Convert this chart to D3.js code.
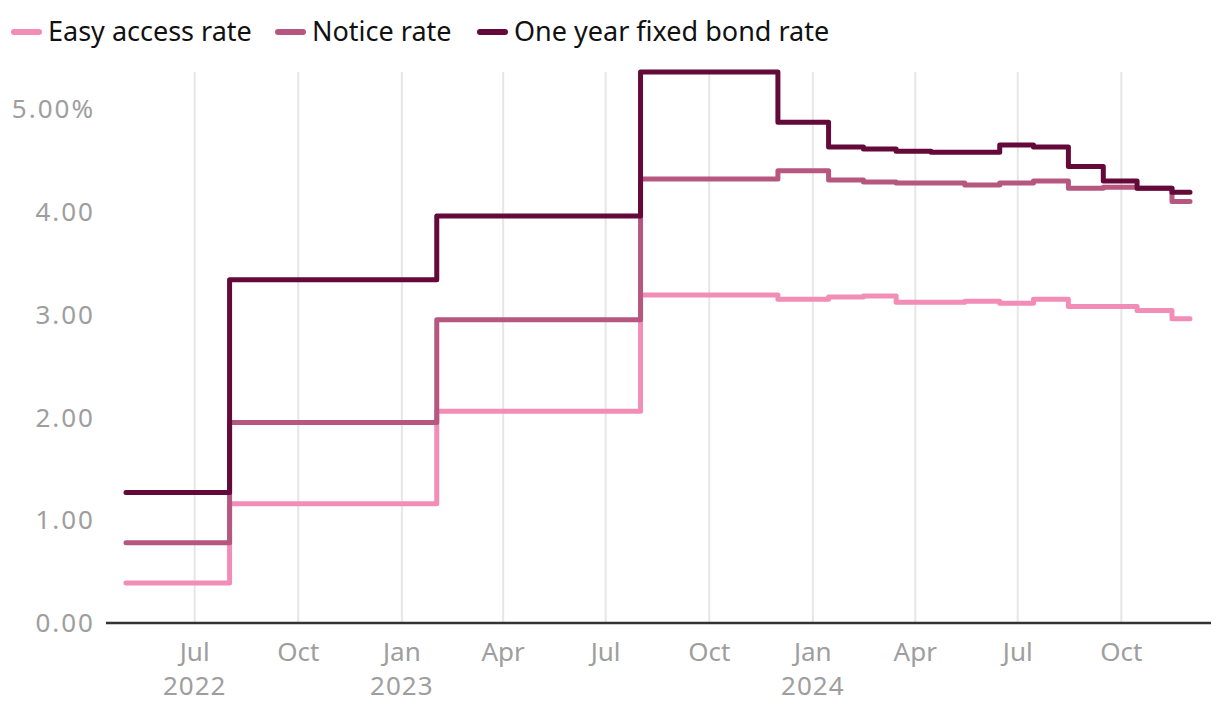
<!DOCTYPE html>
<html><head><meta charset="utf-8">
<script src="https://cdn.jsdelivr.net/npm/d3@7"></script>
<style>body{margin:0;background:#fff} svg{display:block} text{font-family:"Noto Sans",sans-serif}</style>
</head><body><svg id="c" width="1220" height="718"></svg>
<script>
const dates = ["2022-05-01","2022-08-01","2023-02-01","2023-08-01","2023-12-01","2024-01-15","2024-02-15","2024-03-15","2024-04-15","2024-05-15","2024-06-15","2024-07-15","2024-08-15","2024-09-15","2024-10-15","2024-11-15","2024-12-01"];
const easyAccess = [0.39,1.16,2.06,3.19,3.15,3.17,3.18,3.12,3.12,3.13,3.11,3.15,3.08,3.08,3.04,2.96,2.96];
const notice = [0.78,1.95,2.95,4.32,4.40,4.31,4.29,4.28,4.28,4.26,4.28,4.30,4.23,4.24,4.23,4.10,4.10];
const oneYearBond = [1.27,3.34,3.96,5.36,4.87,4.63,4.61,4.59,4.58,4.58,4.65,4.63,4.44,4.30,4.23,4.19,4.19];
const seriesNames = ["Easy access rate","Notice rate","One year fixed bond rate"];
const seriesColors = ["#f28db8","#b6577f","#640a3a"];
const yTicks = [0,1,2,3,4,5];
const xTickDates = ["2022-07-01","2022-10-01","2023-01-01","2023-04-01","2023-07-01","2023-10-01","2024-01-01","2024-04-01","2024-07-01","2024-10-01"];
const xMonthLabels = ["Jul","Oct","Jan","Apr","Jul","Oct","Jan","Apr","Jul","Oct"];
const xYearLabels = ["2022","","2023","","","","2024","","",""];

const parse = d3.utcParse("%Y-%m-%d");
const svg = d3.select("#c");
const x = d3.scaleUtc().domain([parse("2022-05-01"), parse("2024-12-01")]).range([126, 1190]);
const y = d3.scaleLinear().domain([0, 5]).range([623, 109]);
const plotTop = 72, axisLeft = 106, axisRight = 1211;

// vertical gridlines
svg.append("g").selectAll("line").data(xTickDates).join("line")
  .attr("x1", d => x(parse(d))).attr("x2", d => x(parse(d)))
  .attr("y1", plotTop).attr("y2", y(0))
  .attr("stroke", "#e6e6e6").attr("stroke-width", 2);

// x labels
const xl = svg.append("g").attr("fill", "#9e9e9e").attr("font-size", 26).attr("text-anchor", "middle");
xTickDates.forEach((d, i) => {
  const px = x(parse(d));
  xl.append("text").attr("x", px).attr("y", 661).text(xMonthLabels[i]);
  if (xYearLabels[i]) xl.append("text").attr("x", px).attr("y", 695).attr("letter-spacing", 1).text(xYearLabels[i]);
});

// y labels
svg.append("g").attr("fill", "#9e9e9e").attr("font-size", 26).attr("text-anchor", "end")
  .selectAll("text").data(yTicks).join("text")
  .attr("x", 95).attr("y", d => y(d)).attr("dy", "0.35em").attr("letter-spacing", 2)
  .text(d => d === 5 ? d.toFixed(2) + "%" : d.toFixed(2));

// axis line
svg.append("line").attr("x1", axisLeft).attr("x2", axisRight).attr("y1", y(0)).attr("y2", y(0))
  .attr("stroke", "#333").attr("stroke-width", 2.5);

// lines
const allSeries = [easyAccess, notice, oneYearBond];
const line = d3.line().curve(d3.curveStepAfter).x(d => x(d.date)).y(d => y(d.v));
allSeries.forEach((vals, i) => {
  const data = dates.map((d, j) => ({date: parse(d), v: vals[j]}));
  svg.append("path").datum(data).attr("d", line)
    .attr("fill", "none").attr("stroke", seriesColors[i]).attr("stroke-width", 5)
    .attr("stroke-linecap", "round").attr("stroke-linejoin", "round");
});

// legend
const legendX = [12, 276, 478];
const lg = svg.append("g");
seriesNames.forEach((n, i) => {
  lg.append("line").attr("x1", legendX[i] + 2).attr("x2", legendX[i] + 27).attr("y1", 32).attr("y2", 32)
    .attr("stroke", seriesColors[i]).attr("stroke-width", 6).attr("stroke-linecap", "round");
  lg.append("text").attr("x", legendX[i] + 36).attr("y", 41).attr("font-size", 27).attr("fill", "#111").text(n);
});
</script></body></html>
